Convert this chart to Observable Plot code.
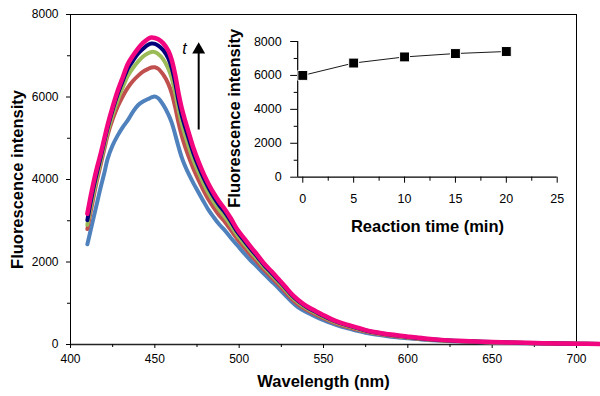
<!DOCTYPE html>
<html><head><meta charset="utf-8">
<script src="https://cdn.jsdelivr.net/npm/d3@7"></script>
<script src="https://cdn.jsdelivr.net/npm/@observablehq/plot@0.6"></script>
<style>
body{margin:0;background:#fff;}
#wrap{position:relative;width:600px;height:396px;}
#wrap svg{position:absolute;top:0;}
</style></head><body><div id="wrap"></div>
<script>
// ---- data ----
const wavelength = [410,412,414,416,418,420,422,425,428,431,434,437,440,443,446,448,450,452,455,458,460,462,464,466,468,470,473,476,479,482,485,488,491,495,499,503,507,511,515,519,523,527,531,535,540,545,550,555,560,565,570,575,580,590,600,610,620,630,640,650,660,670,680,690,700,714];
const t0min  = [2430,2780,3130,3480,3830,4150,4500,4830,5070,5270,5440,5640,5800,5890,5950,5990,6010,5970,5810,5580,5380,5100,4800,4530,4320,4140,3900,3680,3460,3250,3080,2920,2790,2590,2400,2210,2030,1870,1700,1540,1380,1210,1040,900,780,680,590,510,440,385,330,285,245,190,150,115,90,72,58,47,38,30,24,19,15,11];
const t5min  = [2800,3231,3646,4033,4381,4731,5074,5462,5772,6020,6229,6388,6512,6614,6680,6715,6720,6685,6540,6319,6094,5767,5385,5054,4793,4564,4249,3976,3728,3502,3312,3140,2998,2778,2552,2354,2162,1986,1800,1636,1468,1294,1116,972,840,736,638,550,476,419,362,311,269,210,166,127,99,79,64,52,43,34,28,22,17,13];
const t10min = [2904,3346,3749,4118,4462,4814,5156,5574,5934,6238,6514,6701,6855,6983,7060,7092,7089,7042,6913,6689,6459,6115,5710,5351,5068,4817,4461,4168,3896,3660,3457,3278,3128,2896,2647,2444,2245,2059,1863,1696,1523,1347,1164,1017,878,771,668,575,499,440,382,327,284,223,176,135,104,84,68,55,46,37,30,24,18,14];
const t15min = [3015,3461,3870,4228,4559,4914,5254,5695,6074,6395,6691,6878,7047,7168,7264,7295,7288,7243,7136,6935,6702,6362,5918,5553,5266,5000,4623,4309,4030,3786,3573,3388,3232,2990,2723,2516,2311,2117,1913,1744,1567,1389,1202,1053,908,799,692,595,517,457,398,340,296,233,184,141,109,87,72,58,48,39,32,25,19,14];
const t20min = [3170,3600,3990,4330,4640,4980,5320,5760,6150,6480,6800,7000,7170,7310,7410,7440,7430,7400,7300,7120,6900,6550,6100,5720,5420,5150,4750,4420,4130,3880,3660,3470,3310,3060,2780,2570,2360,2160,1950,1780,1600,1420,1230,1080,930,820,710,610,530,470,410,350,305,240,190,145,112,90,74,60,50,41,33,26,20,15];
const seriesColors = ["#4F81BD","#C0504D","#9BBB59","#00007A","#F2067F"];

const reactionTime = [0,5,10,15,20];
const peakIntensity = [6000,6730,7090,7290,7410];

const xTicks = [400,450,500,550,600,650,700];
const xMinorTicks = [425,475,525,575,625,675];
const yTicks = [0,2000,4000,6000,8000];
const yMinorTicks = [1000,3000,5000,7000];
const insetXTicks = [0,5,10,15,20,25];
const insetXMinorTicks = [2.5,7.5,12.5,17.5,22.5];
const insetYTicks = [0,2000,4000,6000,8000];
const insetYMinorTicks = [1000,3000,5000,7000];
const xAxisEnd = 714;
const arrowAt = [{x:476, y1:5200, y2:7060, head:7146}];
const arrowLabel = [{x:467.6, y:7175, text:"t"}];

// ---- build ----
const FONT = "Arial, 'Liberation Sans', sans-serif";
const plain = d => String(d);
const series = [t0min, t5min, t10min, t15min, t20min];
const lineMarks = series.map((vals, i) => Plot.line(
  wavelength.map((w, j) => ({nm: w, I: vals[j]})),
  {x: "nm", y: "I", stroke: seriesColors[i], strokeWidth: i === 4 ? 4.5 : 4,
   curve: "catmull-rom", strokeLinecap: "round", strokeLinejoin: "round"}));

const main = Plot.plot({
  width: 600, height: 396,
  marginLeft: 70, marginRight: 24, marginTop: 14, marginBottom: 52,
  style: {background: "transparent", fontFamily: FONT, color: "#000", overflow: "visible"},
  x: {domain: [400, 700]},
  y: {domain: [0, 8000]},
  marks: [
    Plot.frame({stroke: "#000", strokeWidth: 1}),
    Plot.ruleY([0], {x1: 400, x2: xAxisEnd, stroke: "#222", strokeWidth: 1.5}),
    Plot.axisX(xTicks, {tickSize: 4, tickPadding: 6, fontSize: 12, label: null, tickFormat: plain}),
    Plot.axisX(xMinorTicks, {tickSize: 3, tickFormat: () => "", label: null}),
    Plot.axisY(yTicks, {tickSize: 4, tickPadding: 8, fontSize: 12, label: null, tickFormat: plain}),
    Plot.axisY(yMinorTicks, {tickSize: 3, tickFormat: () => "", label: null}),
    ...lineMarks,
    Plot.ruleX(arrowAt, {x: "x", y1: "y1", y2: "y2", stroke: "#000", strokeWidth: 2}),
    Plot.dot(arrowAt, {x: "x", y: "head", symbol: "triangle", r: 4.8, fill: "#000", stroke: "none"}),
    Plot.text(arrowLabel, {x: "x", y: "y", text: "text", fontSize: 16, fontStyle: "italic", fill: "#000"}),
    Plot.text(["Fluorescence intensity"], {frameAnchor: "left", textAnchor: "middle", lineAnchor: "middle", dx: -53, rotate: -90, fontSize: 16.5, fontWeight: "bold", fill: "#000"}),
    Plot.text(["Wavelength (nm)"], {frameAnchor: "bottom", textAnchor: "middle", lineAnchor: "middle", dy: 37, fontSize: 16.5, fontWeight: "bold", fill: "#000"})
  ]
});
main.style.left = "0px";
document.getElementById("wrap").appendChild(main);

const insetRows = reactionTime.map((t, i) => ({t, I: peakIntensity[i]}));
const inset = Plot.plot({
  width: 370, height: 240,
  marginLeft: 67.2, marginRight: 43.3, marginTop: 41, marginBottom: 63.3,
  style: {background: "transparent", fontFamily: FONT, color: "#000", overflow: "visible"},
  x: {domain: [-0.5, 25]},
  y: {domain: [0, 8000]},
  marks: [
    Plot.ruleY([0], {stroke: "#000", strokeWidth: 1.2}),
    Plot.ruleX([-0.5], {stroke: "#000", strokeWidth: 1.2}),
    Plot.axisX(insetXTicks, {tickSize: 6, tickPadding: 11, fontSize: 12.5, label: null, tickFormat: plain}),
    Plot.axisX(insetXMinorTicks, {tickSize: 4, tickFormat: () => "", label: null}),
    Plot.axisY(insetYTicks, {tickSize: 7, tickPadding: 9, fontSize: 12.5, label: null, tickFormat: plain}),
    Plot.axisY(insetYMinorTicks, {tickSize: 3.5, tickFormat: () => "", label: null}),
    Plot.line(insetRows, {x: "t", y: "I", stroke: "#000", strokeWidth: 0.9}),
    Plot.dot(insetRows, {x: "t", y: "I", symbol: "square", r: 5.6, fill: "#000", stroke: "#fff", strokeWidth: 1}),
    Plot.text(["Fluorescence intensity"], {frameAnchor: "left", textAnchor: "middle", lineAnchor: "middle", dx: -63, dy: 9, rotate: -90, fontSize: 16.5, fontWeight: "bold", fill: "#000"}),
    Plot.text(["Reaction time (min)"], {frameAnchor: "bottom", textAnchor: "middle", lineAnchor: "middle", dy: 50, fontSize: 16.5, fontWeight: "bold", fill: "#000"})
  ]
});
inset.style.left = "230px";
document.getElementById("wrap").appendChild(inset);
</script>
</body></html>
